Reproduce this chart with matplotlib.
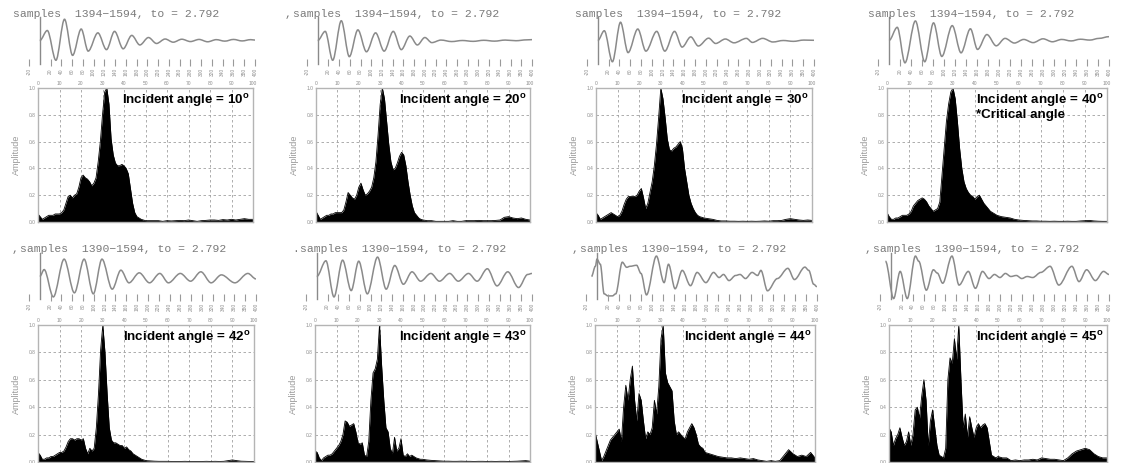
import matplotlib
matplotlib.use('Agg')
import matplotlib.pyplot as plt
from matplotlib.path import Path
from matplotlib.patches import PathPatch

plt.rcParams['font.family'] = ['Liberation Sans', 'DejaVu Sans']
plt.rcParams['mathtext.fontset'] = 'custom'
plt.rcParams['mathtext.rm'] = 'Liberation Sans'
plt.rcParams['mathtext.bf'] = 'Liberation Sans:bold'

# ---- data -------------------------------------------------------------
angles = ['10', '20', '30', '40', '42', '43', '44', '45']
sample_ranges = ['1394\u22121594'] * 4 + ['1390\u22121594'] * 4

# frequency axis of the amplitude spectra
freq = list(range(0, 51)) + list(range(52, 101, 2))

spec_10 = [0.06, 0.04, 0.02, 0.03, 0.04, 0.05, 0.05, 0.05, 0.06, 0.06,
           0.06, 0.07, 0.09, 0.14, 0.19, 0.20, 0.18, 0.20, 0.21, 0.26,
           0.33, 0.35, 0.33, 0.32, 0.30, 0.27, 0.29, 0.33, 0.45, 0.60,
           0.80, 0.97, 1.00, 0.88, 0.62, 0.50, 0.44, 0.42, 0.42, 0.43,
           0.42, 0.40, 0.36, 0.25, 0.14, 0.07, 0.04, 0.03, 0.02, 0.015,
           0.01] + \
          [0.01, 0.01, 0.01, 0.005, 0.01, 0.008, 0.01, 0.012, 0.01, 0.015,
           0.01, 0.005, 0.01, 0.012, 0.015, 0.015, 0.012, 0.018, 0.015, 0.02,
           0.015, 0.02, 0.025, 0.02, 0.02]
spec_20 = [0.08, 0.05, 0.02, 0.03, 0.04, 0.05, 0.05, 0.06, 0.06, 0.07,
           0.07, 0.07, 0.07, 0.09, 0.15, 0.22, 0.20, 0.18, 0.17, 0.20,
           0.26, 0.29, 0.24, 0.20, 0.21, 0.23, 0.26, 0.33, 0.45, 0.65,
           0.88, 1.00, 0.92, 0.75, 0.58, 0.45, 0.39, 0.40, 0.44, 0.49,
           0.52, 0.50, 0.42, 0.30, 0.20, 0.12, 0.07, 0.05, 0.03, 0.02,
           0.015] + \
          [0.01, 0.01, 0.005, 0.005, 0.005, 0.005, 0.01, 0.005, 0.005, 0.01,
           0.01, 0.01, 0.012, 0.01, 0.01, 0.01, 0.012, 0.015, 0.035, 0.04,
           0.03, 0.025, 0.03, 0.02, 0.015]
spec_30 = [0.07, 0.05, 0.02, 0.03, 0.04, 0.05, 0.06, 0.07, 0.06, 0.05,
           0.04, 0.05, 0.08, 0.13, 0.17, 0.19, 0.19, 0.19, 0.19, 0.20,
           0.23, 0.25, 0.18, 0.10, 0.14, 0.22, 0.30, 0.42, 0.58, 0.78,
           1.00, 0.92, 0.78, 0.62, 0.54, 0.53, 0.55, 0.56, 0.58, 0.60,
           0.55, 0.40, 0.30, 0.20, 0.14, 0.10, 0.07, 0.05, 0.04, 0.035,
           0.03] + \
          [0.025, 0.02, 0.012, 0.008, 0.008, 0.006, 0.006, 0.005, 0.006, 0.005,
           0.006, 0.005, 0.006, 0.008, 0.006, 0.01, 0.01, 0.012, 0.02, 0.025,
           0.02, 0.015, 0.012, 0.015, 0.012]
spec_40 = [0.07, 0.04, 0.02, 0.02, 0.03, 0.03, 0.04, 0.05, 0.05, 0.05,
           0.06, 0.08, 0.12, 0.14, 0.16, 0.17, 0.18, 0.17, 0.15, 0.12,
           0.10, 0.08, 0.09, 0.10, 0.15, 0.35, 0.55, 0.75, 0.88, 0.97,
           1.00, 0.92, 0.75, 0.55, 0.40, 0.30, 0.25, 0.22, 0.20, 0.19,
           0.17, 0.19, 0.20, 0.17, 0.14, 0.12, 0.10, 0.08, 0.07, 0.06,
           0.05] + \
          [0.04, 0.035, 0.03, 0.02, 0.015, 0.012, 0.01, 0.008, 0.008, 0.006,
           0.006, 0.005, 0.006, 0.005, 0.005, 0.006, 0.005, 0.005, 0.008, 0.01,
           0.012, 0.008, 0.006, 0.005, 0.005]
spec_42 = [0.07, 0.05, 0.02, 0.02, 0.03, 0.03, 0.04, 0.04, 0.05, 0.06,
           0.07, 0.07, 0.08, 0.11, 0.15, 0.17, 0.17, 0.16, 0.17, 0.17,
           0.16, 0.17, 0.10, 0.06, 0.10, 0.08, 0.10, 0.25, 0.50, 0.82,
           1.00, 0.80, 0.50, 0.25, 0.16, 0.14, 0.14, 0.13, 0.12, 0.12,
           0.10, 0.11, 0.09, 0.08, 0.06, 0.05, 0.04, 0.03, 0.02, 0.015,
           0.01] + \
          [0.008, 0.006, 0.005, 0.005, 0.005, 0.004, 0.004, 0.004, 0.005, 0.004,
           0.004, 0.004, 0.004, 0.005, 0.004, 0.005, 0.004, 0.005, 0.01, 0.015,
           0.01, 0.006, 0.005, 0.004, 0.004]
spec_43 = [0.08, 0.07, 0.03, 0.01, 0.03, 0.04, 0.05, 0.05, 0.06, 0.08,
           0.10, 0.12, 0.15, 0.20, 0.30, 0.29, 0.26, 0.27, 0.28, 0.22,
           0.14, 0.13, 0.14, 0.05, 0.04, 0.15, 0.45, 0.65, 0.68, 0.75,
           1.00, 0.70, 0.45, 0.25, 0.22, 0.10, 0.06, 0.18, 0.08, 0.10,
           0.17, 0.05, 0.04, 0.06, 0.04, 0.05, 0.04, 0.03, 0.025, 0.02,
           0.02] + \
          [0.015, 0.012, 0.01, 0.008, 0.006, 0.006, 0.005, 0.005, 0.006, 0.005,
           0.005, 0.004, 0.005, 0.005, 0.004, 0.005, 0.004, 0.005, 0.005, 0.004,
           0.005, 0.006, 0.008, 0.01, 0.006]
spec_44 = [0.22, 0.15, 0.08, 0.01, 0.04, 0.08, 0.12, 0.16, 0.18, 0.20,
           0.22, 0.24, 0.15, 0.40, 0.56, 0.45, 0.60, 0.70, 0.45, 0.30,
           0.50, 0.45, 0.30, 0.17, 0.22, 0.20, 0.25, 0.45, 0.35, 0.55,
           0.90, 1.00, 0.65, 0.58, 0.55, 0.52, 0.30, 0.20, 0.22, 0.20,
           0.18, 0.17, 0.22, 0.25, 0.28, 0.25, 0.20, 0.13, 0.11, 0.10,
           0.07] + \
          [0.06, 0.05, 0.04, 0.035, 0.03, 0.03, 0.025, 0.03, 0.025, 0.02,
           0.025, 0.015, 0.01, 0.005, 0.01, 0.005, 0.01, 0.05, 0.09, 0.06,
           0.04, 0.05, 0.04, 0.07, 0.03]
spec_45 = [0.25, 0.22, 0.12, 0.17, 0.20, 0.25, 0.18, 0.12, 0.15, 0.22,
           0.12, 0.20, 0.38, 0.40, 0.32, 0.48, 0.60, 0.45, 0.12, 0.30,
           0.38, 0.25, 0.12, 0.05, 0.04, 0.03, 0.10, 0.60, 0.76, 0.72,
           0.90, 0.75, 1.00, 0.60, 0.25, 0.35, 0.18, 0.33, 0.25, 0.18,
           0.25, 0.28, 0.25, 0.27, 0.28, 0.25, 0.15, 0.05, 0.04, 0.03,
           0.04] + \
          [0.03, 0.03, 0.01, 0.015, 0.01, 0.015, 0.015, 0.02, 0.015, 0.03,
           0.025, 0.02, 0.02, 0.015, 0.01, 0.03, 0.06, 0.08, 0.09, 0.10,
           0.09, 0.06, 0.04, 0.03, 0.03]

# waveform turning points (sample, relative amplitude)
wave_t_10 = [0, 14, 30, 46, 61, 77, 90, 108, 124, 139, 155, 171, 186, 202, 217,
             233, 248, 264, 280, 296, 312, 328, 344, 360, 376, 392, 400]
wave_v_10 = [0, 0.47, -0.93, 1.0, -0.7, 0.54, -0.5, 0.36, -0.43, 0.43, -0.39, 0.24, -0.21, 0.14, -0.14,
             0.07, -0.08, 0.06, -0.05, 0.05, -0.06, 0.04, -0.03, 0.05, -0.02, 0.04, 0.02]
wave_t_20 = [0, 14, 28, 44, 59, 75, 91, 108, 124, 141, 156, 172, 186, 200, 213,
             230, 250, 270, 290, 310, 330, 350, 370, 390, 400]
wave_v_20 = [0, 0.43, -0.93, 0.93, -0.76, 0.5, -0.53, 0.36, -0.5, 0.43, -0.43, 0.21, -0.21, 0.14, -0.1,
             0.02, -0.05, 0.0, -0.04, 0.01, -0.03, 0.02, -0.01, 0.03, 0.04]
wave_t_30 = [0, 12, 27, 42, 56, 74, 89, 109, 124, 142, 156, 172, 186, 205, 218,
             236, 252, 275, 286, 305, 324, 343, 362, 381, 400]
wave_v_30 = [0, 0.46, -1.0, 0.86, -0.57, 0.54, -0.5, 0.43, -0.5, 0.43, -0.31, 0.17, -0.26, 0.11, -0.14,
             0.07, -0.11, 0.1, -0.09, 0.1, -0.07, 0.0, -0.04, 0.02, 0.01]
wave_t_40 = [0, 15, 29, 48, 65, 81, 96, 115, 131, 148, 161, 178, 195, 211, 228,
             245, 262, 280, 297, 314, 331, 348, 365, 382, 400]
wave_v_40 = [0, 0.62, -1.05, 0.92, -1.0, 0.83, -0.75, 0.7, -0.58, 0.55, -0.42, 0.28, -0.25, 0.1, -0.12,
             0.05, -0.1, 0.08, -0.06, 0.05, -0.02, 0.06, 0.02, 0.1, 0.18]
wave_t_42 = [0, 8, 25, 45, 64, 82, 99, 115, 134, 150, 165, 184, 203, 222, 238,
             260, 279, 298, 317, 336, 361, 385, 400]
wave_v_42 = [0, 0.34, -1.0, 0.85, -0.8, 0.85, -0.85, 0.85, -0.62, 0.31, -0.31, 0.18, -0.31, 0.15, -0.31,
             0.15, -0.23, 0.23, -0.31, 0.08, -0.31, 0.15, -0.12]
wave_t_43 = [0, 17, 32, 48, 64, 78, 94, 113, 129, 145, 161, 177, 193, 212, 228,
             247, 263, 282, 298, 317, 335, 355, 375, 392, 400]
wave_v_43 = [0, 0.77, -1.0, 0.8, -0.69, 0.75, -0.85, 0.95, -0.62, 0.54, -0.38, 0.23, -0.23, 0.15, -0.23,
             0.15, -0.23, 0.15, -0.23, 0.38, -0.46, 0.23, -0.54, 0.1, 0.15]
wave_t_44 = [-10, -3, 0, 6, 13, 20, 28, 34, 46, 54, 60, 72, 80, 90, 108, 122, 130, 142, 155, 170,
             182, 198, 212, 222, 230, 240, 252, 260, 270, 282, 292, 298, 310, 328, 347, 359,
             378, 385, 394, 400]
wave_v_44 = [0.0, 0.5, 0.85, 0.6, -0.85, -0.95, -0.95, -0.85, 0.7, 0.45, 0.5, 0.55, 0.15, -0.9, 1.0,
             -0.3, 0.6, -0.6, 0.3, -0.45, 0.2, -0.3, 0.2, -0.05, 0.1, -0.2, 0.05, 0.1, -0.1, 0.2,
             0.05, 0.3, -0.7, -0.1, 0.4, -0.15, 0.46, 0.3, -0.38, -0.5]
wave_t_45 = [-10, 5, 17, 30, 45, 51, 65, 78, 85, 95, 112, 125, 142, 155, 168, 180, 190, 200, 210,
             220, 230, 240, 250, 260, 275, 292, 308, 332, 345, 359, 375, 390, 400]
wave_v_45 = [0.75, -1.08, 0.25, -1.08, 1.0, 0.75, -0.67, 0.33, 0.17, -0.33, 1.0, -0.42, 0.25, -0.58,
             0.25, -0.1, 0.1, -0.05, 0.15, 0.0, 0.05, -0.1, 0.0, -0.05, 0.2, 0.5, -0.42, 0.5, -0.25,
             0.33, -0.2, 0.25, 0.1]

spectra = [spec_10, spec_20, spec_30, spec_40, spec_42, spec_43, spec_44, spec_45]
wave_t = [wave_t_10, wave_t_20, wave_t_30, wave_t_40, wave_t_42, wave_t_43, wave_t_44, wave_t_45]
wave_v = [wave_v_10, wave_v_20, wave_v_30, wave_v_40, wave_v_42, wave_v_43, wave_v_44, wave_v_45]

wave_ticks = [-20] + list(range(20, 401, 20))
wave_ticklabels = [str(t) for t in wave_ticks]
freq_ticks = list(range(0, 101, 10))
amp_ticks = [0.0, 0.2, 0.4, 0.6, 0.8, 1.0]

# ---- layout (pixels) --------------------------------------------------
W, H = 1122, 463
box_left = [38, 316, 596, 887, 38, 315, 595, 889]
box_right = [253, 530, 812, 1107, 254, 530, 815, 1107]
box_top = [88, 325]
box_bottom = [222, 462]
wave_top = [15, 252]
wave_bottom = [66, 301]
title_x = [13, 293, 575, 868, 20, 300, 580, 873]
title_y = [14, 249]
prefix = ['', ',', '', '', ',', '.', ',', ',']

GREY = '#8a8a8a'
LIGHT = '#b4b4b4'

fig = plt.figure(figsize=(W / 100, H / 100), dpi=100)
fig.patch.set_facecolor('white')


def px_axes(left, top, right, bottom):
    return fig.add_axes([left / W, 1 - bottom / H, (right - left) / W, (bottom - top) / H])


def fx(x):
    return x / W


def fy(y):
    return 1 - y / H


def wave_path(t, v):
    # smooth trace through the turning points (flat tangent at each one)
    verts = [(t[0], v[0])]
    codes = [Path.MOVETO]
    for k in range(1, len(t)):
        dx = (t[k] - t[k - 1]) / 3.0
        verts += [(t[k - 1] + dx, v[k - 1]), (t[k] - dx, v[k]), (t[k], v[k])]
        codes += [Path.CURVE4] * 3
    return Path(verts, codes)


for i in range(8):
    r = i // 4
    L, R = box_left[i], box_right[i]

    # waveform strip
    wax = px_axes(L - 9, wave_top[r], R + 2, wave_bottom[r])
    wax.add_patch(PathPatch(wave_path(wave_t[i], wave_v[i]), fill=False,
                            edgecolor=GREY, lw=1.1))
    wax.axvline(0, ymin=0.04, ymax=0.97, color=GREY, lw=1.0)
    wax.set_xlim(-20, 400)
    wax.set_ylim(-1.2, 1.2)
    wax.set_yticks([])
    wax.set_xticks(wave_ticks)
    wax.set_xticklabels(wave_ticklabels)
    wax.tick_params(axis='x', direction='in', length=5, width=0.8, color='#9a9a9a',
                    labelsize=3.5, labelrotation=90, labelcolor='#8c8c8c', pad=1.5)
    for s in wax.spines.values():
        s.set_visible(False)
    wax.patch.set_alpha(0)

    fig.text(fx(title_x[i]), fy(title_y[r]),
             'samples  %s, to = 2.792' % sample_ranges[i],
             family='Liberation Mono', fontsize=8.2, color='#7a7a7a', va='center', ha='left')
    if prefix[i]:
        fig.text(fx(title_x[i] - 8), fy(title_y[r]), prefix[i],
                 family='Liberation Mono', fontsize=8.2, color='#7a7a7a', va='center', ha='left')

    # amplitude spectrum
    sax = px_axes(L, box_top[r], R, box_bottom[r])
    sax.set_axisbelow(True)
    sax.fill_between(freq, spectra[i], 0, color='black', lw=0)
    sax.plot(freq, spectra[i], color='black', lw=0.6)
    sax.set_xlim(0, 100)
    sax.set_ylim(0, 1.0)
    sax.set_xticks(freq_ticks)
    sax.set_yticks(amp_ticks)
    sax.set_yticklabels(['%.1f' % a for a in amp_ticks])
    sax.xaxis.tick_top()
    sax.tick_params(length=0, labelsize=3.5, labelcolor='#8c8c8c', pad=1.5)
    sax.grid(True, linestyle=(0, (3, 3)), color='#a0a0a0', lw=0.6)
    for s in sax.spines.values():
        s.set_color(LIGHT)
        s.set_linewidth(1.0)

    fig.text(fx(L - 22), fy((box_top[r] + box_bottom[r]) / 2), 'Amplitude',
             rotation=90, fontsize=6.5, color='#9a9a9a', ha='center', va='center')

    label = r'Incident angle = %s$^{\mathbf{o}}$' % angles[i]
    if angles[i] == '40':
        label += '\n*Critical angle'
    fig.text(fx(R - 3), fy(box_top[r] + 4), label, fontsize=9.6, fontweight='bold',
             color='black', ha='right', va='top', multialignment='left', linespacing=1.05)

fig.savefig('out.png', dpi=100, facecolor='white')
